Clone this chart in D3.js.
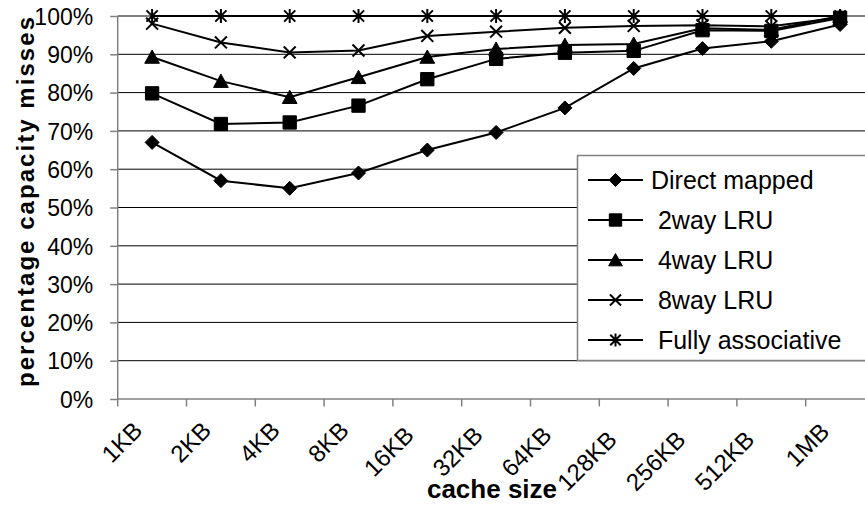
<!DOCTYPE html>
<html lang="en">
<head>
<meta charset="utf-8">
<title>Capacity misses</title>
<script src="https://cdn.jsdelivr.net/npm/d3@7"></script>
<style>
  body { margin: 0; background: #fff; }
  text { font-family: "Liberation Sans", Arial, sans-serif; }
</style>
</head>
<body>
<div id="chart"></div>
<script>
// values (percent)
var cacheSizes = ["1KB", "2KB", "4KB", "8KB", "16KB", "32KB", "64KB", "128KB", "256KB", "512KB", "1MB"];
var directMapped = [67, 57, 55, 59, 65, 69.6, 76, 86.3, 91.5, 93.4, 97.8];
var twoWayLRU = [79.8, 71.8, 72.2, 76.6, 83.5, 88.8, 90.4, 90.9, 96.3, 96.1, 99.5];
var fourWayLRU = [89.3, 83, 78.8, 84, 89.3, 91.4, 92.4, 92.7, 96.8, 96.4, 100];
var eightWayLRU = [98, 93.1, 90.5, 91, 94.8, 95.9, 96.9, 97.4, 97.6, 97.3, 99.6];
var fullyAssoc = [100, 100, 100, 100, 100, 100, 100, 100, 100, 100, 100];
var seriesNames = ["Direct mapped", " 2way LRU", " 4way LRU", " 8way LRU", " Fully associative"];
var yTicks = [0, 10, 20, 30, 40, 50, 60, 70, 80, 90, 100];

var W = 865, H = 506;
var plotLeft = 117.7, plotRight = 874.5, plotTop = 16, plotBottom = 399;

var svg = d3.select("#chart").append("svg")
  .attr("width", W).attr("height", H);

var x = d3.scaleBand().domain(cacheSizes).range([plotLeft, plotRight]);
var y = d3.scaleLinear().domain([0, 100]).range([plotBottom, plotTop]);

// marker shapes
function marker(kind, s) {
  var p = d3.path();
  if (kind == "diamond") {
    p.moveTo(0, -s); p.lineTo(s, 0); p.lineTo(0, s); p.lineTo(-s, 0); p.closePath();
  } else if (kind == "square") {
    p.rect(-s * 0.95, -s * 0.95, s * 1.9, s * 1.9);
  } else if (kind == "triangle") {
    p.moveTo(0, -s); p.lineTo(s * 1.05, s * 0.9); p.lineTo(-s * 1.05, s * 0.9); p.closePath();
  } else if (kind == "x") {
    p.moveTo(-s * 0.85, -s * 0.85); p.lineTo(s * 0.85, s * 0.85);
    p.moveTo(s * 0.85, -s * 0.85); p.lineTo(-s * 0.85, s * 0.85);
  } else {
    p.moveTo(-s * 0.8, -s * 0.8); p.lineTo(s * 0.8, s * 0.8);
    p.moveTo(s * 0.8, -s * 0.8); p.lineTo(-s * 0.8, s * 0.8);
    p.moveTo(0, -s); p.lineTo(0, s);
  }
  return p.toString();
}
var kinds = ["diamond", "square", "triangle", "x", "star"];
var allSeries = [directMapped, twoWayLRU, fourWayLRU, eightWayLRU, fullyAssoc];

// gridlines
svg.append("g")
  .selectAll("line").data(yTicks.slice(1)).enter().append("line")
  .attr("x1", plotLeft).attr("x2", W)
  .attr("y1", function(d) { return y(d); })
  .attr("y2", function(d) { return y(d); })
  .attr("stroke", "#000").attr("stroke-width", 1);

// y axis
var yAxis = svg.append("g").attr("transform", "translate(" + plotLeft + ",0)")
  .call(d3.axisLeft(y).tickValues(yTicks).tickSize(7.5).tickPadding(17)
    .tickFormat(function(d) { return d + "%"; }));
yAxis.selectAll("path,line").attr("stroke", "#808080").attr("stroke-width", 1.5);
yAxis.select(".domain").attr("d", "M0," + plotTop + "V" + plotBottom);
yAxis.selectAll("text").attr("font-size", 23).attr("fill", "#000")
  .attr("font-family", "Liberation Sans, Arial, sans-serif").attr("dy", "0.36em");

// x axis, ticks between categories
var xAxis = svg.append("g").attr("transform", "translate(0," + plotBottom + ")");
xAxis.append("line").attr("x1", plotLeft).attr("x2", W)
  .attr("stroke", "#808080").attr("stroke-width", 1.5);
xAxis.selectAll("line.tk").data(cacheSizes).enter().append("line")
  .attr("class", "tk")
  .attr("x1", function(d) { return x(d); }).attr("x2", function(d) { return x(d); })
  .attr("y1", 0).attr("y2", 7.5)
  .attr("stroke", "#808080").attr("stroke-width", 1.5);

// rotated category labels, longer ones sit a bit lower and further left
var xl = svg.append("g").selectAll("text").data(cacheSizes).enter().append("text")
  .text(function(d) { return d; })
  .attr("font-size", 24).attr("text-anchor", "end");
xl.each(function(d) {
  var len = this.getComputedTextLength();
  var cx = x(d) + x.bandwidth() / 2;
  var ax = cx + 4 - 0.27 * len, ay = 416 + 0.35 * len;
  d3.select(this).attr("transform", "translate(" + ax + "," + ay + ") rotate(-45)");
});

// axis titles
svg.append("text").text("cache size")
  .attr("x", 492).attr("y", 498).attr("text-anchor", "middle")
  .attr("font-size", 26).attr("font-weight", "bold");
svg.append("text").text("percentage capacity misses")
  .attr("transform", "translate(34,202) rotate(-90)").attr("text-anchor", "middle")
  .attr("font-size", 24).attr("font-weight", "bold")
  .attr("textLength", 370).attr("lengthAdjust", "spacing");

// series
var line = d3.line()
  .x(function(d, i) { return x(cacheSizes[i]) + x.bandwidth() / 2; })
  .y(function(d) { return y(d); });

allSeries.forEach(function(vals, k) {
  var g = svg.append("g");
  g.append("path").attr("d", line(vals))
    .attr("fill", "none").attr("stroke", "#000").attr("stroke-width", 2);
  var open = kinds[k] == "x" || kinds[k] == "star";
  g.selectAll("path.m").data(vals).enter().append("path")
    .attr("class", "m")
    .attr("d", marker(kinds[k], 7))
    .attr("transform", function(d, i) {
      return "translate(" + (x(cacheSizes[i]) + x.bandwidth() / 2) + "," + y(d) + ")";
    })
    .attr("fill", open ? "none" : "#000")
    .attr("stroke", "#000").attr("stroke-width", open ? 2 : 1);
});

// legend
var lg = svg.append("g");
lg.append("rect").attr("x", 577.5).attr("y", 155.5).attr("width", 300).attr("height", 205)
  .attr("fill", "#fff").attr("stroke", "#808080").attr("stroke-width", 1.5);
seriesNames.forEach(function(name, k) {
  var ly = 180 + k * 40;
  lg.append("line").attr("x1", 588).attr("x2", 643).attr("y1", ly).attr("y2", ly)
    .attr("stroke", "#000").attr("stroke-width", 2);
  var open = kinds[k] == "x" || kinds[k] == "star";
  lg.append("path").attr("d", marker(kinds[k], 6.5))
    .attr("transform", "translate(615.5," + ly + ")")
    .attr("fill", open ? "none" : "#000")
    .attr("stroke", "#000").attr("stroke-width", open ? 2 : 1);
  lg.append("text").text(name)
    .attr("x", 651).attr("y", ly).attr("dy", "0.36em")
    .attr("font-size", 25).style("white-space", "pre");
});
</script>
</body>
</html>
